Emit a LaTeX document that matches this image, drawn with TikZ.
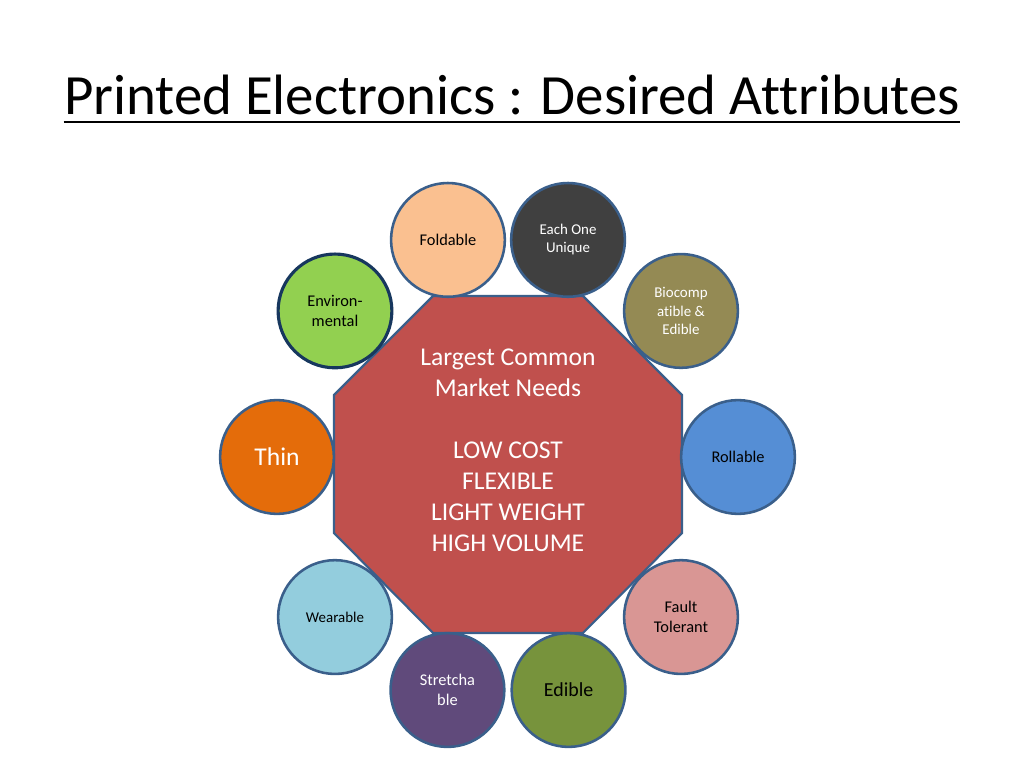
\documentclass[tikz,border=0pt]{standalone}
\usepackage{fontspec}
\setmainfont{Carlito}[Ligatures=NoCommon]
\usetikzlibrary{positioning}
\definecolor{rimblue}{HTML}{3A5F8B}
\definecolor{rimnavy}{HTML}{17375E}
\definecolor{hubred}{HTML}{C0504D}
\definecolor{peach}{HTML}{FAC090}
\definecolor{charcoal}{HTML}{404040}
\definecolor{olive}{HTML}{948A54}
\definecolor{skyblue}{HTML}{558ED5}
\definecolor{rose}{HTML}{D99694}
\definecolor{leaf}{HTML}{77933C}
\definecolor{plum}{HTML}{604A7B}
\definecolor{ice}{HTML}{93CDDD}
\definecolor{pumpkin}{HTML}{E46C0A}
\definecolor{lime}{HTML}{92D050}

\begin{document}
\begin{tikzpicture}[x=0.703125pt, y=0.703125pt,
	attr/.style={draw=rimblue, line width=1.8pt, circle, minimum size=80pt, inner sep=1pt, align=center,
		font=\fontsize{11.5}{14.2}\selectfont},
	small/.style={font=\fontsize{10.5}{12.7}\selectfont},
	hub/.style={draw=rimblue, line width=1.5pt, fill=hubred}]
	\useasboundingbox (-508,-304) rectangle (516,464);
	% title
	\node (title) [anchor=base, inner sep=0pt, font=\fontsize{40}{48}\selectfont] at (4,349)
	{Printed Electronics : Desired Attributes};
	\draw[line width=1.8pt] ([yshift=-5pt]title.base west) -- ([yshift=-5pt]title.base east);
	% octagon
	\draw[hub] (-75,168) -- (75,168) -- (174,69) -- (174,-69) -- (75,-169)
	-- (-75,-169) -- (-174,-69) -- (-174,69) -- cycle;
	\node (needs) [text=white, align=center, font=\fontsize{18}{21.8}\selectfont] at (0,14)
	{Largest Common\\Market Needs\\[21.8pt]LOW COST\\FLEXIBLE\\LIGHT WEIGHT\\HIGH VOLUME};
	% attributes
	\node (fold)    [attr, fill=peach]                 at (105:232)   {Foldable};
	\node (unique)  [attr, small, fill=charcoal, text=white] at (75:232) {Each One\\Unique};
	\node (biocomp) [attr, small, fill=olive, text=white]    at (41.5:231) {Biocomp\\atible \&\\Edible};
	\node (roll)    [attr, fill=skyblue]               at (230,7)     {Rollable};
	\node (fault)   [attr, fill=rose]                  at (-41.5:231) {Fault\\Tolerant};
	\node (edible)  [attr, fill=leaf, font=\fontsize{14}{17}\selectfont] at (-75:234) {Edible};
	\node (stretch) [attr, fill=plum, text=white]      at (-105:234)  {Stretcha\\ble};
	\node (wear)    [attr, small, fill=ice]            at (-138.5:231) {Wearable};
	\node (thin)    [attr, fill=pumpkin, text=white, font=\fontsize{18}{21}\selectfont] at (-231,7) {Thin};
	\node (enviro)  [attr, fill=lime, draw=rimnavy, line width=2.2pt] at (138.5:231) {Environ-\\mental};
\end{tikzpicture}
\end{document}
